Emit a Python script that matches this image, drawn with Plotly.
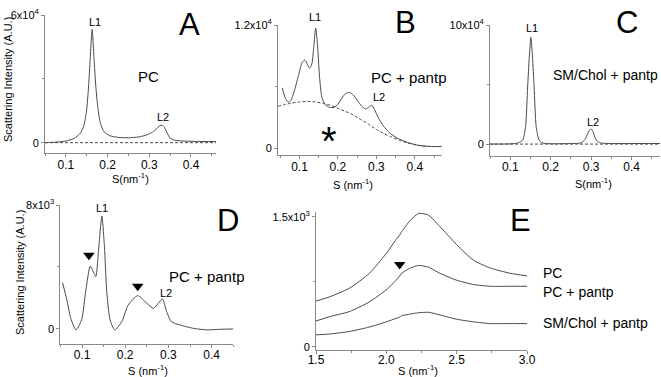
import plotly.graph_objects as go

W, H = 661, 377
FONT = "Arial, Liberation Sans, sans-serif"
LINE = "#4a4a4a"
AX = "#8a8a8a"


def px(x):
    return x / W


def py(y):
    return 1 - y / H


# ---------------- data ----------------
# Panel A : PC   (intensity in units of 1e4)
A_s = [0.05, 0.08, 0.10, 0.12, 0.135, 0.143, 0.149, 0.154, 0.158, 0.163, 0.168, 0.172,
       0.177, 0.183, 0.192, 0.205, 0.225, 0.25, 0.275, 0.295, 0.308, 0.318, 0.325, 0.331,
       0.337, 0.343, 0.35, 0.36, 0.38, 0.41, 0.46]
A_i = [0.0, 0.03, 0.08, 0.2, 0.45, 0.8, 1.4, 2.5, 3.8, 5.33, 3.8, 2.6,
       1.6, 0.9, 0.5, 0.33, 0.25, 0.23, 0.27, 0.37, 0.5, 0.66, 0.8, 0.82,
       0.7, 0.45, 0.22, 0.12, 0.08, 0.06, 0.05]

# Panel B : PC + pantp (units of 1e4), solid and dashed background
B_s = [0.055, 0.062, 0.07, 0.078, 0.088, 0.098, 0.106, 0.113, 0.12, 0.126, 0.132, 0.137,
       0.142, 0.147, 0.152, 0.158, 0.166, 0.178, 0.19, 0.2, 0.21, 0.22, 0.23, 0.24, 0.25,
       0.262, 0.272, 0.28, 0.288, 0.295, 0.305, 0.318, 0.335, 0.355, 0.38, 0.41, 0.44, 0.47]
B_i = [0.59, 0.5, 0.45, 0.47, 0.58, 0.72, 0.83, 0.86, 0.82, 0.78, 0.82, 0.98,
       1.17, 1.0, 0.7, 0.5, 0.43, 0.4, 0.4, 0.43, 0.49, 0.535, 0.545, 0.52, 0.47,
       0.41, 0.385, 0.4, 0.42, 0.38, 0.3, 0.22, 0.15, 0.1, 0.06, 0.03, 0.02, 0.02]
B_bg_s = [0.044, 0.06, 0.08, 0.1, 0.12, 0.14, 0.16, 0.18, 0.2, 0.22, 0.24, 0.26, 0.28,
          0.3, 0.32, 0.34, 0.36, 0.38, 0.4, 0.42, 0.44, 0.47]
B_bg_i = [0.41, 0.425, 0.442, 0.452, 0.457, 0.453, 0.44, 0.42, 0.39, 0.36, 0.325, 0.28,
          0.235, 0.185, 0.145, 0.11, 0.08, 0.055, 0.037, 0.025, 0.02, 0.018]

# Panel C : SM/Chol + pantp (units of 1e4)
C_s = [0.05, 0.1, 0.12, 0.131, 0.138, 0.143, 0.147, 0.151, 0.155, 0.159, 0.164, 0.171,
       0.18, 0.2, 0.25, 0.275, 0.285, 0.291, 0.296, 0.301, 0.305, 0.31, 0.316, 0.326,
       0.35, 0.4, 0.47]
C_i = [0.0, 0.02, 0.1, 0.35, 1.5, 4.8, 7.3, 8.96, 7.3, 4.8, 1.5, 0.35,
       0.1, 0.03, 0.05, 0.1, 0.4, 0.85, 1.18, 1.25, 1.0, 0.5, 0.2, 0.08,
       0.05, 0.05, 0.05]

# Panel D : PC + pantp, background subtracted (units of 1e3)
D_s = [0.055, 0.065, 0.074, 0.086, 0.099, 0.109, 0.119, 0.126, 0.132, 0.139, 0.146, 0.152,
       0.157, 0.165, 0.176, 0.192, 0.207, 0.229, 0.25, 0.265, 0.277, 0.286, 0.296, 0.307,
       0.327, 0.358, 0.389, 0.42, 0.45]
D_i = [2.99, 1.87, 0.69, -0.06, 0.58, 2.52, 4.06, 3.7, 3.38, 5.31, 7.29, 5.31,
       2.52, 0.58, -0.06, 0.47, 1.55, 2.15, 1.66, 1.33, 1.66, 1.94, 1.12, 0.47,
       0.26, 0.04, -0.06, -0.02, 0.0]
D_mark_s = [0.116, 0.229]
D_mark_i = [4.75, 2.75]

# Panel E : wide-angle region (units of 1e3)
E_s = [1.5, 1.6, 1.74, 1.88, 2.0, 2.07, 2.09, 2.11, 2.17, 2.23, 2.3, 2.38, 2.5, 2.62,
       2.74, 2.88, 3.0]
E_pc = [0.53, 0.58, 0.68, 0.85, 1.08, 1.24, 1.28, 1.33, 1.46, 1.54, 1.52, 1.39, 1.18,
        1.0, 0.91, 0.85, 0.82]
E_pcp = [0.30, 0.35, 0.41, 0.52, 0.66, 0.77, 0.81, 0.85, 0.91, 0.94, 0.92, 0.85, 0.77,
         0.72, 0.70, 0.70, 0.70]
E_sm = [0.14, 0.15, 0.18, 0.23, 0.29, 0.33, 0.34, 0.36, 0.38, 0.395, 0.40, 0.37, 0.32,
        0.29, 0.27, 0.27, 0.27]
E_mark_s = [2.095]
E_mark_i = [0.95]

x_ticks = [0.1, 0.2, 0.3, 0.4]
x_minor = [0.05, 0.15, 0.25, 0.35, 0.45]
E_ticks = [1.5, 2.0, 2.5, 3.0]
E_minor = [1.75, 2.25, 2.75]

# ---------------- figure ----------------
fig = go.Figure()


def curve(xs, ys, scale, xa, ya, dash="solid"):
    fig.add_trace(go.Scatter(
        x=xs, y=[v * scale for v in ys], mode="lines", xaxis=xa, yaxis=ya,
        line=dict(color=LINE, width=1, dash=dash, shape="spline", smoothing=0.6),
        showlegend=False, hoverinfo="skip"))


DASH = "3px,2px"
curve(A_s, A_i, 1e4, "x", "y")
curve([A_s[0], A_s[-1]], [0, 0], 1e4, "x", "y", dash=DASH)
curve(B_s, B_i, 1e4, "x2", "y2")
curve(B_bg_s, B_bg_i, 1e4, "x2", "y2", dash=DASH)
curve(C_s, C_i, 1e4, "x3", "y3")
curve([C_s[0], C_s[-1]], [0, 0], 1e4, "x3", "y3", dash=DASH)
curve(D_s, D_i, 1e3, "x4", "y4")
curve(E_s, E_pc, 1e3, "x5", "y5")
curve(E_s, E_pcp, 1e3, "x5", "y5")
curve(E_s, E_sm, 1e3, "x5", "y5")

for xs, ys, sc, xa, ya in [(D_mark_s, D_mark_i, 1e3, "x4", "y4"),
                           (E_mark_s, E_mark_i, 1e3, "x5", "y5")]:
    fig.add_trace(go.Scatter(
        x=xs, y=[v * sc for v in ys], mode="markers", xaxis=xa, yaxis=ya,
        marker=dict(symbol="triangle-down", size=10, color="black"),
        showlegend=False, hoverinfo="skip"))


def xaxis(dom, rng, vals, minor, anchor, standoff):
    return dict(domain=dom, range=rng, anchor=anchor, showline=True, linecolor=AX,
                linewidth=1, ticks="outside", ticklen=3, tickcolor=AX, showgrid=False,
                zeroline=False, tickmode="array", tickvals=vals,
                ticktext=[f"{v:.1f}" for v in vals], ticklabelstandoff=standoff,
                tickfont=dict(family=FONT, size=12, color="black"),
                minor=dict(tickvals=minor, ticks="outside", ticklen=2, tickcolor=AX),
                automargin=False, fixedrange=True)


def yaxis(dom, rng, top, toptext, anchor):
    return dict(domain=dom, range=rng, anchor=anchor, showline=True, linecolor=AX,
                linewidth=1, ticks="outside", ticklen=3, tickcolor=AX, showgrid=False,
                zeroline=False, tickmode="array", tickvals=[0, top],
                ticktext=["0", toptext],
                tickfont=dict(family=FONT, size=11, color="black"),
                minor=dict(tickvals=[top / 2], ticks="outside", ticklen=2, tickcolor=AX),
                automargin=False, fixedrange=True)


fig.update_layout(
    width=W, height=H, margin=dict(l=0, r=0, t=0, b=0, autoexpand=False),
    paper_bgcolor="white", plot_bgcolor="white",
    xaxis=xaxis([px(45), px(216)], [0.05, 0.46], x_ticks, x_minor, "y", -2),
    yaxis=yaxis([py(153), py(15)], [-4850, 60000], 60000, "6x10<sup>4</sup>", "x"),
    xaxis2=xaxis([px(278), px(441.7)], [0.044, 0.47], x_ticks, x_minor, "y2", -2),
    yaxis2=yaxis([py(155), py(25)], [-630, 12000], 12000, "1.2x10<sup>4</sup>", "x2"),
    xaxis3=xaxis([px(490), px(660)], [0.05, 0.47], x_ticks, x_minor, "y3", -3),
    yaxis3=yaxis([py(156), py(25)], [-10000, 100000], 100000, "10x10<sup>4</sup>", "x3"),
    xaxis4=xaxis([px(60.4), px(233.2)], [0.05, 0.45], x_ticks, x_minor, "y4", -3),
    yaxis4=yaxis([py(344), py(205)], [-970, 8000], 8000, "8x10<sup>3</sup>", "x4"),
    xaxis5=xaxis([px(316), px(527)], [1.5, 3.0], E_ticks, E_minor, "y5", -4),
    yaxis5=yaxis([py(349.5), py(211.7)], [-29, 1560], 1500, "1.5x10<sup>3</sup>", "x5"),
)


def text(x, y, s, size, xanchor="center", angle=0, family=FONT):
    fig.add_annotation(x=px(x), y=py(y), xref="paper", yref="paper", text=s,
                       showarrow=False, xanchor=xanchor, yanchor="middle",
                       textangle=angle, font=dict(family=family, size=size, color="black"))


# panel letters
text(190, 24, "A", 31)
text(405, 23, "B", 31)
text(627, 23, "C", 31)
text(228, 221, "D", 31)
text(520, 220, "E", 31)

# sample labels
text(148, 76, "PC", 15)
text(408, 77, "PC + pantp", 15)
text(605, 75, "SM/Chol + pantp", 14)
text(206, 276, "PC + pantp", 15)
text(541, 273, "PC", 14, xanchor="left")
text(541, 292, "PC + pantp", 14, xanchor="left")
text(541, 323, "SM/Chol + pantp", 14, xanchor="left")

# peak labels
text(95, 22, "L1", 11)
text(163, 117, "L2", 11)
text(315, 17, "L1", 11)
text(379, 97, "L2", 11)
text(532, 28, "L1", 11)
text(593, 122, "L2", 11)
text(102, 208, "L1", 11)
text(166, 293, "L2", 11)

# asterisk
text(329, 141, "*", 40)

# axis titles
text(130, 178, "S(nm<sup>-1</sup>)", 11)
text(353, 184, "S (nm<sup>-1</sup>)", 11)
text(593, 183, "S(nm<sup>-1</sup>)", 11)
text(148, 370, "S (nm<sup>-1</sup>)", 11)
text(418, 370, "S (nm<sup>-1</sup>)", 11)
text(8, 80, "Scattering Intensity (A.U.)", 11, angle=-90)
text(20, 273, "Scattering Intensity (A.U.)", 11, angle=-90)

fig.write_html(
    "out.html",
    config={"displayModeBar": False},
    post_script="document.body.style.margin='0';document.body.style.overflow='hidden';",
)
